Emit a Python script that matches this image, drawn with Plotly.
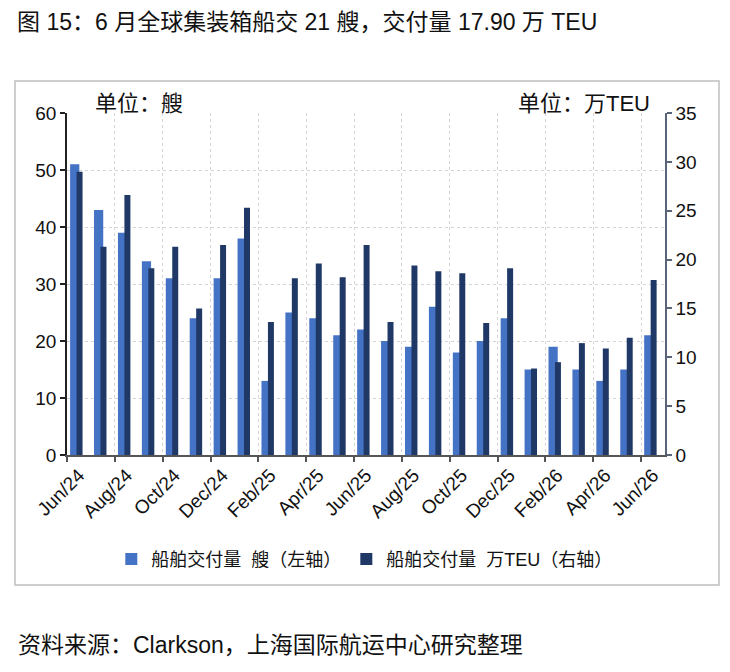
import plotly.graph_objects as go

# monthly deliveries of container ships, Jun/24 - Jun/26
months = ["Jun/24", "Jul/24", "Aug/24", "Sep/24", "Oct/24", "Nov/24", "Dec/24",
          "Jan/25", "Feb/25", "Mar/25", "Apr/25", "May/25", "Jun/25", "Jul/25",
          "Aug/25", "Sep/25", "Oct/25", "Nov/25", "Dec/25", "Jan/26", "Feb/26",
          "Mar/26", "Apr/26", "May/26", "Jun/26"]
ships = [51, 43, 39, 34, 31, 24, 31, 38, 13, 25, 24, 21, 22, 20, 19, 26, 18,
         20, 24, 15, 19, 15, 13, 15, 21]
teu_10k = [29.0, 21.3, 26.6, 19.1, 21.3, 15.0, 21.5, 25.3, 13.6, 18.1, 19.6,
           18.2, 21.5, 13.6, 19.4, 18.8, 18.6, 13.5, 19.1, 8.85, 9.5, 11.45,
           10.9, 12.0, 17.9]

FONT = "Liberation Sans, Arial, Noto Sans CJK SC, sans-serif"
LIGHT = "#4472c4"
DARK = "#1f3866"

x = list(range(len(months)))
label_pos = x[::2]
label_txt = months[::2]
# dotted gridlines sit between label pairs
grid_pos = [p - 0.5 for p in label_pos[1:]]

fig = go.Figure()
fig.add_trace(go.Bar(
    x=x, y=ships, name="船舶交付量  艘（左轴）",
    marker=dict(color=LIGHT, line=dict(width=0)),
    width=0.385, offset=-0.37, yaxis="y",
))
fig.add_trace(go.Bar(
    x=x, y=teu_10k, name="船舶交付量  万TEU（右轴）",
    marker=dict(color=DARK, line=dict(width=0)),
    width=0.25, offset=-0.10, yaxis="y2",
))

# page body adds 8px margin, so the figure is a bit smaller than the window
fig.update_layout(
    width=714, height=656,
    margin=dict(l=59, r=57, t=105, b=209),
    paper_bgcolor="white", plot_bgcolor="white",
    barmode="overlay",
    font=dict(family=FONT, size=18, color="#111111"),
    showlegend=True,
    legend=dict(orientation="h", x=0.498, xanchor="center", y=-0.305, yanchor="middle",
                font=dict(size=18), itemwidth=30, traceorder="normal",
                bgcolor="rgba(0,0,0,0)"),
    xaxis=dict(
        range=[-0.5, len(months) - 0.5],
        tickmode="array", tickvals=label_pos, ticktext=label_txt,
        tickangle=-45, tickfont=dict(size=19),
        ticks="", showgrid=False, zeroline=False,
        showline=True, linecolor="#555555", linewidth=1.5,
        minor=dict(tickmode="array", tickvals=[-0.5] + grid_pos, ticks="outside",
                   ticklen=5, tickcolor="#555555", tickwidth=1.5,
                   showgrid=True, gridcolor="#d4d4d4", griddash="dot", gridwidth=1),
    ),
    yaxis=dict(
        range=[0, 60], dtick=10, ticks="outside", ticklen=5, tickwidth=1.5,
        tickcolor="#222222", showline=True, linecolor="#222222", linewidth=1.5,
        showgrid=True, gridcolor="#d4d4d4", griddash="dot", gridwidth=1,
        zeroline=False, tickfont=dict(size=19),
    ),
    yaxis2=dict(
        range=[0, 35], dtick=5, overlaying="y", side="right",
        ticks="outside", ticklen=5, tickwidth=1.5, tickcolor="#5a6478",
        showline=True, linecolor="#5a6478", linewidth=1.5,
        showgrid=False, zeroline=False, tickfont=dict(size=19),
    ),
)

# outer frame around the chart
fig.add_shape(type="rect", xref="paper", yref="paper",
              x0=-52 / 598, x1=652 / 598, y0=-130 / 342, y1=374 / 342,
              line=dict(color="#bfbfbf", width=1.5), layer="below")

# title pinned to the top edge of the figure so it is not clipped
fig.add_annotation(text="图 15：6 月全球集装箱船交 21 艘，交付量 17.90 万 TEU",
                   xref="paper", yref="paper", x=-51 / 598, y=(342 + 105) / 342,
                   xanchor="left", yanchor="top", showarrow=False, borderpad=0,
                   font=dict(size=23, color="#111111"))
fig.add_annotation(text="单位：艘", xref="paper", yref="paper",
                   x=26 / 598, y=351 / 342, xanchor="left", yanchor="middle",
                   showarrow=False, font=dict(size=22))
fig.add_annotation(text="单位：万TEU", xref="paper", yref="paper",
                   x=585 / 598, y=351 / 342, xanchor="right", yanchor="middle",
                   showarrow=False, font=dict(size=22))
fig.add_annotation(text="资料来源：Clarkson，上海国际航运中心研究整理",
                   xref="paper", yref="paper", x=-51 / 598, y=-190 / 342,
                   xanchor="left", yanchor="middle", showarrow=False,
                   font=dict(size=23, color="#111111"))

fig.write_html("out.html")
